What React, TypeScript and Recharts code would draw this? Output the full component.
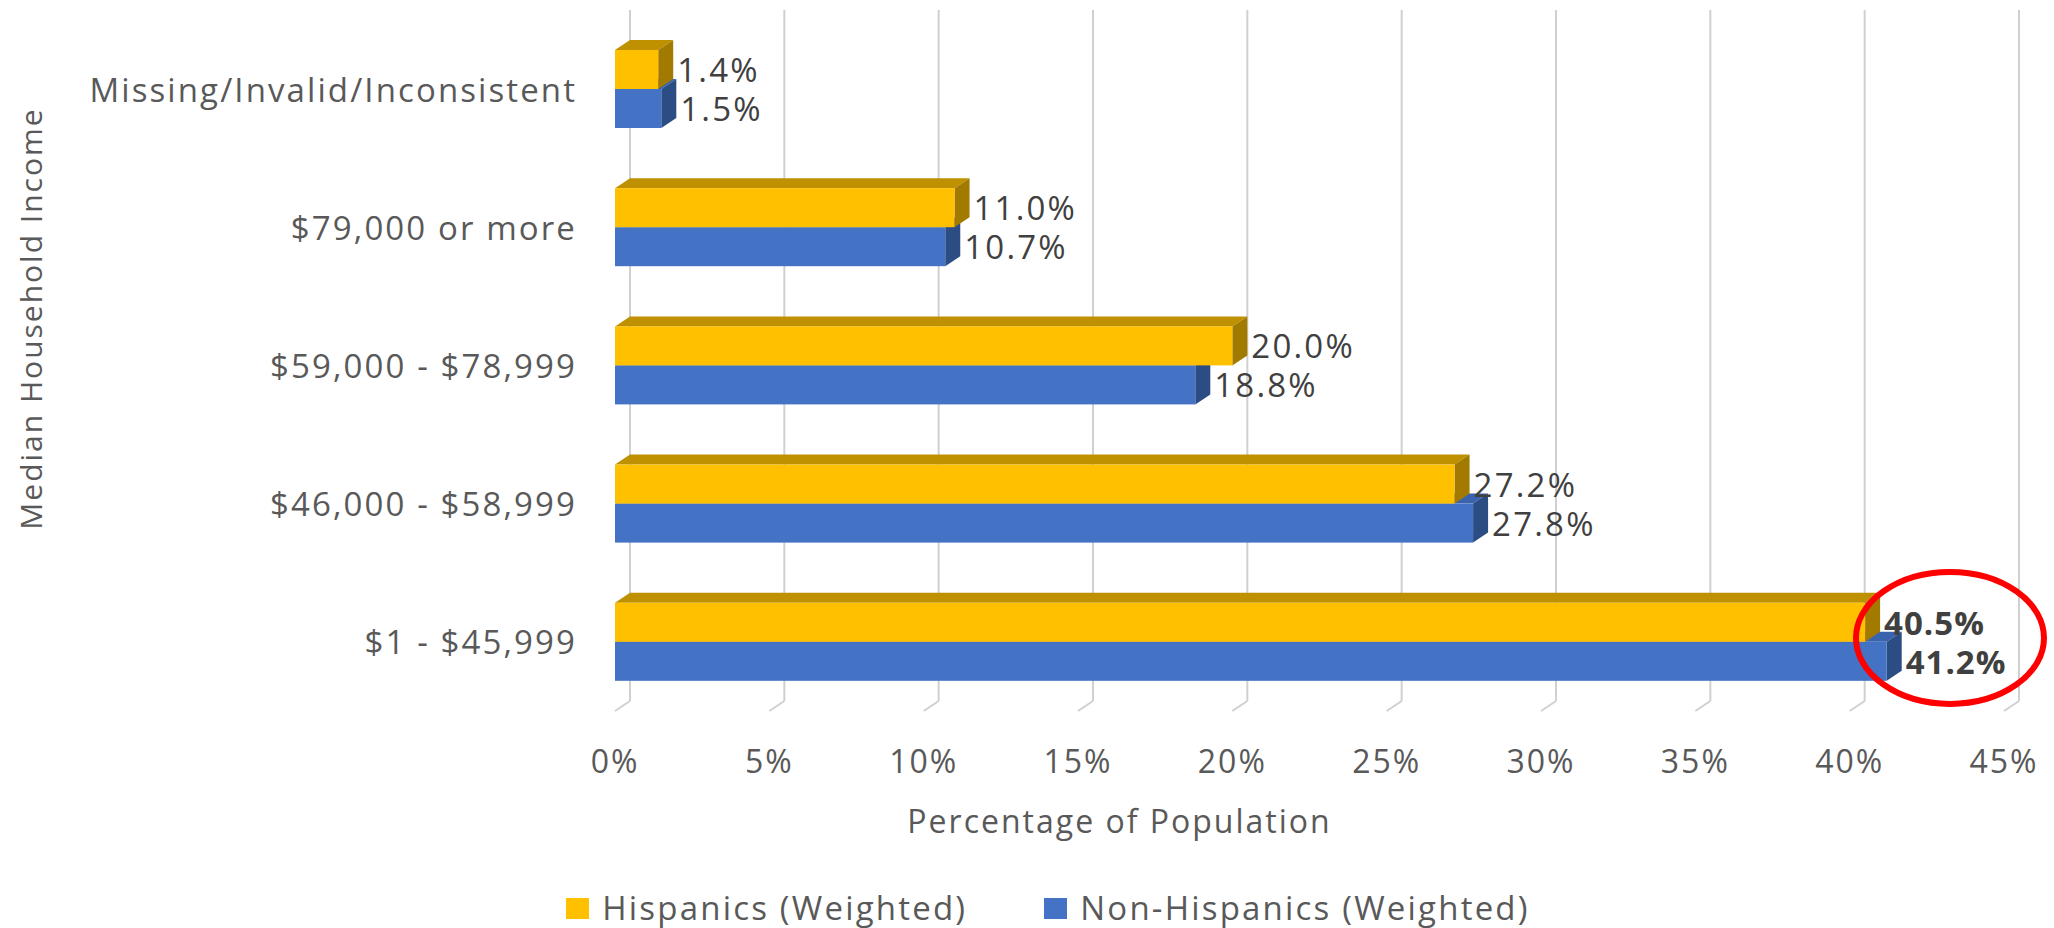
import React from "react";
import { BarChart, Bar, XAxis, YAxis, CartesianGrid, Legend, ReferenceDot, Label } from "recharts";

// income bands, top to bottom as drawn
const categories = [
  "Missing/Invalid/Inconsistent",
  "$79,000 or more",
  "$59,000 - $78,999",
  "$46,000 - $58,999",
  "$1 - $45,999",
];
const hispanics = [1.4, 11.0, 20.0, 27.2, 40.5];
const nonHispanics = [1.5, 10.7, 18.8, 27.8, 41.2];
const xTicks = [0, 5, 10, 15, 20, 25, 30, 35, 40, 45];
const emphasized = ["$1 - $45,999"];
const circledAt = 43.25; // where the red ring sits on the value axis

const series = [
  { key: "hispanics", name: "Hispanics (Weighted)", front: "#FFC000", top: "#BF9000", side: "#A37A00" },
  { key: "nonHispanics", name: "Non-Hispanics (Weighted)", front: "#4472C4", top: "#3A63AE", side: "#2C4C84" },
];

const data = categories.map((category, i) => ({
  category,
  hispanics: hispanics[i],
  nonHispanics: nonHispanics[i],
}));

// fake 3D depth of the Excel-style bars
const DX = 15;
const DY = 10;
const TEXT = "#595959";
const GRID = "#d0d0d0";

function bar3d(s: (typeof series)[number]) {
  return (props: any) => {
    const { x, y, width, height, payload } = props;
    const xe = x + width;
    const bold = emphasized.includes(payload.category);
    return (
      <g>
        <polygon points={`${x},${y} ${x + DX},${y - DY} ${xe + DX},${y - DY} ${xe},${y}`} fill={s.top} />
        <polygon
          points={`${xe},${y} ${xe + DX},${y - DY} ${xe + DX},${y + height - DY} ${xe},${y + height}`}
          fill={s.side}
        />
        <rect x={x} y={y} width={width} height={height} fill={s.front} />
        <text
          x={xe + 19}
          y={y + height / 2}
          dominantBaseline="central"
          fontSize={33}
          letterSpacing={bold ? 1 : 2.2}
          fontWeight={bold ? 700 : 400}
          fill="#404040"
        >
          {payload[s.key].toFixed(1)}%
        </text>
      </g>
    );
  };
}

const CategoryTick = ({ x, y, payload }: any) => (
  <text x={x - 38} y={y} textAnchor="end" dominantBaseline="central" fontSize={33} letterSpacing={2.1} fill={TEXT}>
    {payload.value}
  </text>
);

const PercentTick = ({ x, y, payload }: any) => (
  <g>
    <line x1={x + DX} y1={y - DY} x2={x} y2={y} stroke={GRID} strokeWidth={2} />
    <text x={x} y={y + 49} textAnchor="middle" dominantBaseline="central" fontSize={32} letterSpacing={2} fill={TEXT}>
      {payload.value}%
    </text>
  </g>
);

export default function App() {
  return (
    <div
      style={{
        position: "absolute",
        left: 0,
        top: 0,
        width: 2054,
        height: 928,
        background: "#fff",
        fontFamily: "'Open Sans', sans-serif",
      }}
    >
      <BarChart
        width={2054}
        height={928}
        data={data}
        layout="vertical"
        margin={{ top: 20, right: 50, bottom: 157, left: 0 }}
        barSize={39}
        barGap={-78}
      >
        <CartesianGrid
          horizontal={false}
          vertical={(p: any) => (
            <line
              key={p.key}
              x1={p.x1 + DX}
              y1={p.y1 - DY}
              x2={p.x2 + DX}
              y2={p.y2 - DY}
              stroke={GRID}
              strokeWidth={2}
            />
          )}
        />
        <XAxis
          type="number"
          domain={[0, 45]}
          ticks={xTicks}
          height={60}
          axisLine={false}
          tickLine={false}
          tickSize={0}
          tickMargin={0}
          tick={<PercentTick />}
          interval={0}
        >
          <Label
            content={({ viewBox }: any) => (
              <text
                x={viewBox.x + viewBox.width / 2 - 190}
                y={viewBox.y + 109}
                textAnchor="middle"
                dominantBaseline="central"
                fontSize={32}
                letterSpacing={2}
                fill={TEXT}
              >
                Percentage of Population
              </text>
            )}
          />
        </XAxis>
        <YAxis
          type="category"
          dataKey="category"
          width={615}
          axisLine={false}
          tickLine={false}
          tickSize={0}
          tickMargin={0}
          tick={<CategoryTick />}
          interval={0}
        >
          <Label
            content={({ viewBox }: any) => {
              const cx = viewBox.x + 30;
              const cy = viewBox.y + viewBox.height / 2 - 47;
              return (
                <text
                  x={cx}
                  y={cy}
                  transform={`rotate(-90, ${cx}, ${cy})`}
                  textAnchor="middle"
                  dominantBaseline="central"
                  fontSize={30}
                  letterSpacing={2}
                  fill={TEXT}
                >
                  Median Household Income
                </text>
              );
            }}
          />
        </YAxis>
        {/* blue first so the yellow bar above it paints over its hidden faces */}
        <Bar dataKey="nonHispanics" name={series[1].name} fill={series[1].front} shape={bar3d(series[1])} isAnimationActive={false} />
        <Bar dataKey="hispanics" name={series[0].name} fill={series[0].front} shape={bar3d(series[0])} isAnimationActive={false} />
        <ReferenceDot
          x={circledAt}
          y={categories[4]}
          ifOverflow="visible"
          shape={(p: any) => (
            <ellipse cx={p.cx} cy={p.cy - 4} rx={94} ry={66} fill="none" stroke="#FF0000" strokeWidth={6} />
          )}
        />
        <Legend
          layout="horizontal"
          verticalAlign="middle"
          align="center"
          wrapperStyle={{ top: 888, left: 0, width: 2054 }}
          content={() => (
            <div style={{ display: "flex", justifyContent: "center", paddingLeft: 42 }}>
              {series.map((s, i) => (
                <div
                  key={s.key}
                  style={{ display: "flex", alignItems: "center", marginRight: i === 0 ? 77 : 0 }}
                >
                  <span style={{ display: "inline-block", width: 23, height: 21, background: s.front, marginRight: 13 }} />
                  <span style={{ fontSize: 33, letterSpacing: 2.2, color: TEXT, lineHeight: "40px" }}>{s.name}</span>
                </div>
              ))}
            </div>
          )}
        />
      </BarChart>
    </div>
  );
}
